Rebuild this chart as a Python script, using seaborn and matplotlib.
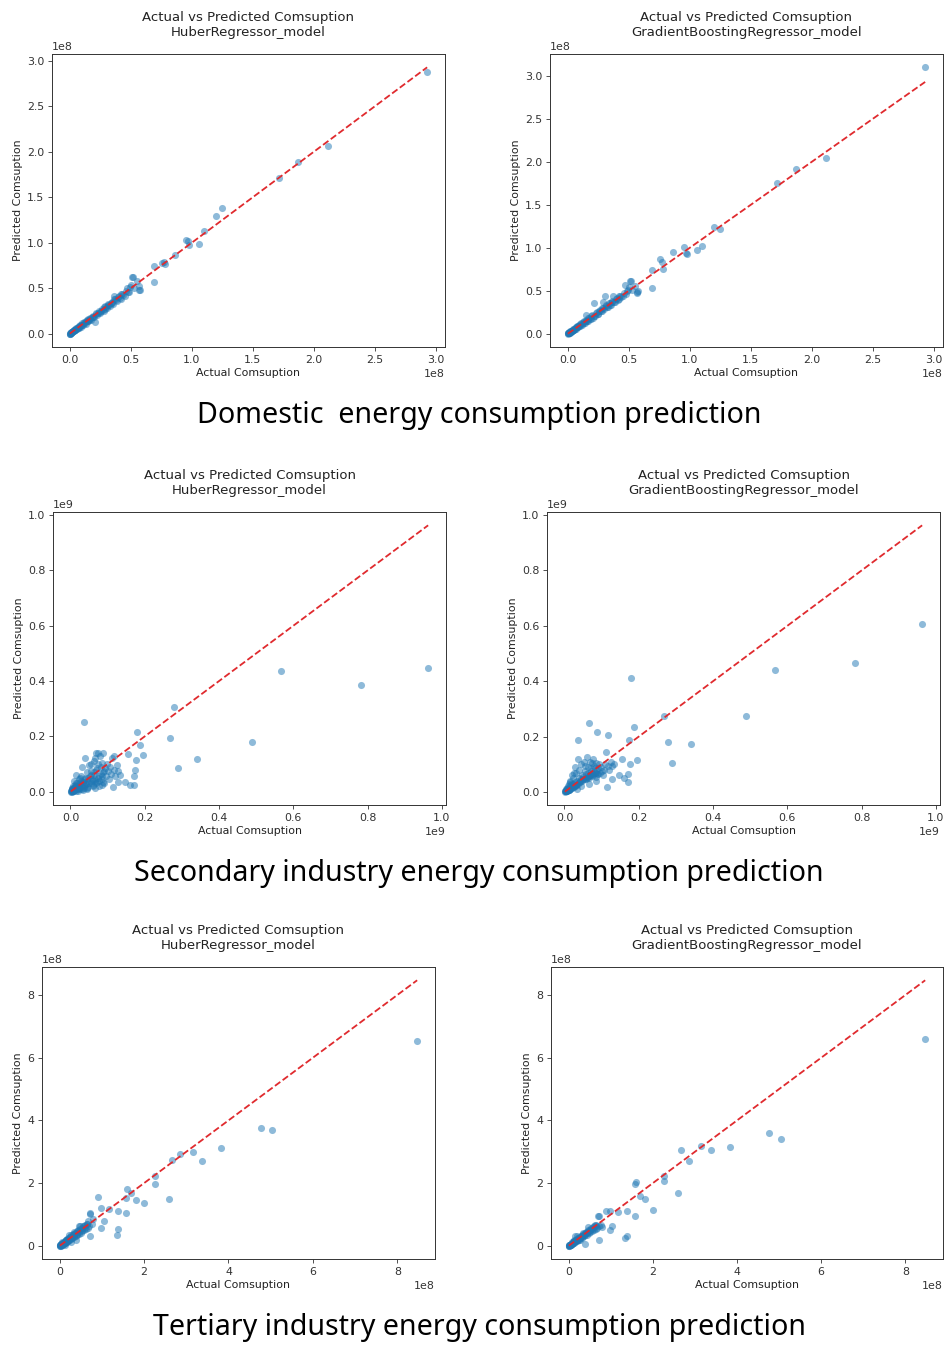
import numpy as np
import pandas as pd
import matplotlib
matplotlib.use("Agg")
import matplotlib.pyplot as plt
import seaborn as sns

# All consumption values below are in millions (x 1e6)

# Domestic energy consumption: actual + predictions of the two models
dom_actual = [293, 212, 187, 172, 125, 120, 110, 106, 95, 97, 98, 86, 76, 77, 78, 69, 69, 52, 57,
              0.3, 0.6, 1.0, 1.4, 1.9, 2.3, 2.8, 3.3, 3.9, 4.5, 5.2, 6.0, 6.8, 7.5, 8.3, 9.1,
              10.0, 11.0, 12.0, 13.1, 14.2, 15.3, 16.5, 17.6, 18.8, 20.0, 20.5, 21.3, 22.6, 23.9,
              25.2, 26.5, 27.8, 29.1, 30.4, 31.7, 33.0, 34.4, 35.8, 37.2, 38.6, 40.1, 41.7, 43.3,
              45.0, 46.7, 48.4, 50.0, 51.0, 53.0, 55.0, 56.5, 58.0, 36.0, 29.0, 15.0, 8.0, 4.0,
              0.2, 0.4, 0.8, 1.2, 1.7, 2.1, 2.6, 3.1, 3.6, 4.2, 4.8, 5.5, 6.3, 7.1, 7.9, 8.7,
              9.5, 10.5, 11.5, 12.5, 13.6, 14.7, 15.9, 17.0, 18.2, 19.4, 21.9, 23.2, 24.5, 25.8,
              27.1, 28.5, 29.8, 31.1, 32.4, 33.7, 35.1, 36.5, 37.9, 39.3, 40.9, 42.5, 44.1, 45.8,
              47.5, 49.2]
dom_huber = [288, 206, 189, 171, 138, 130, 113, 99, 103, 102, 98, 87, 78, 79, 77, 74, 57, 62, 48,
             0.1, 0.2, 1.5, 0.8, 2.4, 1.6, 3.4, 2.5, 4.6, 3.6, 5.9, 4.8, 7.7, 6.2, 9.4, 7.8,
             11.3, 9.4, 13.0, 11.2, 15.0, 13.6, 17.4, 15.5, 19.6, 18.1, 12.8, 22.4, 20.5, 25.0,
             23.0, 27.6, 25.4, 30.0, 28.0, 32.8, 30.6, 35.2, 33.1, 38.5, 35.7, 41.5, 38.7, 44.2,
             41.8, 50.5, 46.0, 53.5, 62.0, 50.2, 57.5, 52.5, 48.0, 42.0, 27.0, 16.5, 7.0, 4.2,
             0.5, 0.1, 1.1, 0.9, 2.0, 1.8, 2.9, 2.7, 3.9, 3.8, 5.0, 5.2, 6.6, 6.7, 8.4, 8.2,
             9.9, 10.1, 11.9, 11.8, 13.9, 14.1, 15.6, 16.4, 17.9, 18.7, 21.5, 22.9, 23.9, 25.5,
             26.4, 28.9, 29.0, 31.5, 31.8, 34.3, 34.0, 37.8, 36.9, 40.2, 39.5, 43.6, 42.5, 47.3,
             45.5, 51.0]
dom_gbr = [310, 205, 192, 175, 122, 124, 102, 97, 101, 94, 93, 95, 87, 83, 75, 74, 53, 62, 49,
           0.5, 0.9, 0.7, 1.9, 1.5, 2.9, 2.2, 3.9, 3.3, 5.3, 4.6, 6.9, 6.0, 8.6, 7.4, 10.0,
           9.0, 12.3, 10.8, 14.4, 12.8, 22.5, 15.0, 18.9, 17.0, 21.5, 19.0, 36.0, 21.0, 25.5,
           23.3, 28.0, 26.0, 37.0, 44.0, 33.5, 31.0, 36.0, 33.5, 43.5, 37.0, 41.5, 40.0, 44.5,
           43.5, 57.0, 50.0, 55.0, 62.0, 51.0, 56.0, 48.0, 50.0, 36.5, 30.5, 15.5, 8.5, 4.0,
           0.3, 0.6, 1.2, 1.0, 2.1, 1.9, 2.8, 3.3, 3.5, 4.6, 4.7, 5.9, 6.1, 7.6, 7.6, 9.2,
           9.2, 11.0, 11.2, 13.3, 13.0, 15.6, 15.2, 17.9, 17.5, 20.5, 21.0, 24.0, 23.5, 27.0,
           26.0, 30.0, 28.8, 32.5, 31.5, 35.5, 34.0, 38.5, 37.0, 41.0, 39.5, 44.0, 42.5, 47.5,
           46.0, 51.0]

# Secondary industry energy consumption
sec_actual = [963, 781, 567, 488, 341, 290, 278, 268, 178, 186, 195, 175, 177, 171, 170, 159,
              154, 146, 114, 127, 36, 66, 87, 117,
              1, 2, 3, 4, 5, 6, 7, 8, 9, 10, 11, 12, 13, 14, 15, 16, 18, 20, 22, 24, 26, 28,
              30, 32, 34, 36, 38, 40, 42, 44, 46, 48, 50, 52, 54, 56, 58, 60, 62, 64, 66, 68,
              70, 72, 74, 76, 78, 80, 82, 84, 86, 88, 90, 92, 95, 98, 101, 104, 107, 110, 113,
              116, 120, 124, 128, 132, 25, 35, 45, 55, 65, 75, 85, 15, 5,
              2, 4, 6, 8, 10, 12, 14, 16, 18, 20, 22, 24, 26, 28, 30, 33, 36, 39, 42, 45,
              48, 51, 54, 57, 60, 63, 66, 69, 72, 75, 78, 81, 84, 87, 90, 3, 7, 11, 19, 27]
sec_huber = [447, 384, 436, 178, 118, 84, 307, 193, 216, 169, 134, 77, 113, 57, 23, 23,
             135, 36, 17, 35, 253, 120, 140, 128,
             3, 0, 8, 1, 12, 2, 20, 5, 15, 40, 6, 25, 10, 60, 18, 4, 30, 12, 45, 20, 8, 55,
             25, 90, 35, 15, 120, 48, 28, 70, 38, 18, 95, 55, 30, 75, 45, 25, 110, 60, 40, 140,
             80, 35, 100, 55, 20, 130, 65, 45, 105, 70, 30, 85, 55, 100, 75, 45, 90, 65, 120,
             80, 55, 95, 75, 60, 50, 5, 10, 100, 15, 140, 25, 30, 0,
             1, 6, 2, 10, 5, 14, 8, 20, 12, 9, 25, 15, 30, 18, 10, 35, 22, 45, 28, 15,
             50, 30, 60, 38, 20, 70, 45, 30, 85, 50, 40, 90, 55, 35, 75, 9, 3, 17, 4, 40]
sec_gbr = [605, 467, 439, 275, 173, 104, 181, 273, 412, 236, 114, 186, 102, 64, 35, 50,
           120, 60, 17, 45, 189, 249, 216, 207,
           1, 5, 2, 9, 3, 12, 4, 15, 6, 20, 8, 28, 10, 35, 12, 40, 15, 60, 18, 50, 22, 90,
           25, 70, 30, 120, 35, 80, 38, 100, 40, 60, 45, 110, 50, 75, 48, 125, 55, 90, 52, 110,
           60, 85, 58, 120, 65, 95, 70, 105, 55, 80, 65, 100, 70, 90, 75, 60, 80, 100, 143,
           95, 80, 110, 95, 100, 70, 10, 20, 95, 30, 105, 40, 25, 5,
           3, 2, 8, 5, 12, 7, 16, 10, 22, 14, 20, 30, 18, 35, 25, 40, 28, 50, 35, 45,
           42, 55, 48, 65, 50, 70, 58, 60, 75, 68, 62, 85, 70, 66, 88, 4, 10, 6, 28, 20]

# Tertiary industry energy consumption
ter_actual = [847, 477, 504, 383, 338, 315, 285, 266, 259, 227, 226, 201, 182, 169, 160, 158,
              157, 139, 139, 135, 98, 98, 104, 90, 118, 72, 72,
              0.5, 1, 1.5, 2, 3, 4, 5, 6, 7, 8, 9, 10, 11, 12, 13, 14, 15, 16, 17, 18, 19, 20,
              22, 24, 26, 28, 30, 32, 34, 36, 38, 40, 42, 44, 46, 48, 50, 52, 54, 56, 58, 60,
              62, 64, 66, 68, 70, 73, 76, 79, 21, 27, 33, 39, 45, 12, 6,
              1, 2.5, 3.5, 5.5, 7.5, 9.5, 11.5, 13.5, 15.5, 17.5, 19.5, 23, 25, 29, 31, 35,
              37, 41, 43, 47, 49, 53, 57, 61, 65]
ter_huber = [654, 375, 369, 312, 270, 299, 292, 273, 148, 224, 196, 138, 146, 169, 180, 154,
             104, 112, 53, 33, 122, 58, 80, 157, 116, 32, 104,
             0.3, 2.0, 0.5, 3.5, 1.5, 6.0, 2.5, 8.0, 4.5, 10.0, 6.0, 13.0, 8.0, 15.0, 10.0,
             18.0, 11.5, 20.0, 13.5, 22.0, 15.5, 25.0, 18.0, 29.0, 21.0, 33.0, 25.0, 37.0,
             28.0, 42.0, 32.0, 46.0, 36.0, 50.0, 39.0, 62.0, 42.0, 58.0, 47.0, 63.0, 49.0,
             66.0, 53.0, 70.0, 58.0, 80.0, 63.0, 100.0, 70.0, 85.0, 35, 12, 45, 20, 62, 3, 12,
             1.5, 1.0, 4.5, 3.5, 9.0, 7.0, 13.0, 10.5, 17.0, 14.5, 22.0, 20.0, 28.0, 26.0,
             34.0, 31.0, 41.0, 37.0, 48.0, 43.0, 55.0, 49.0, 62.0, 57.0, 70.0]
ter_gbr = [661, 359, 342, 316, 305, 317, 272, 305, 168, 223, 208, 115, 151, 160, 203, 197,
           95, 111, 32, 24, 110, 49, 63, 110, 109, 19, 96,
           1.0, 0.4, 2.5, 1.2, 4.0, 2.5, 6.5, 4.0, 9.0, 6.0, 11.0, 8.0, 13.0, 10.0, 15.0,
           12.0, 30.0, 14.0, 19.0, 15.0, 21.0, 17.0, 25.0, 20.0, 28.0, 24.0, 33.0, 26.0,
           37.0, 30.0, 40.0, 34.0, 45.0, 36.0, 60.0, 42.0, 52.0, 44.0, 57.0, 48.0, 60.0,
           52.0, 65.0, 55.0, 68.0, 58.0, 95.0, 62.0, 65.0, 60.0, 30, 18, 42, 5, 50, 20, 2,
           0.8, 3.0, 2.5, 6.0, 6.5, 10.5, 10.0, 14.5, 14.0, 18.5, 18.0, 24.0, 23.0, 30.0,
           29.0, 36.0, 35.0, 42.0, 41.0, 48.0, 46.0, 54.0, 55.0, 62.0, 63.0]

W, H = 944, 1345
fig = plt.figure(figsize=(W / 100, H / 100), dpi=100)


def box(l, t, r, b):
    return [l / W, 1 - b / H, (r - l) / W, (b - t) / H]


def panel(rect, actual, pred, model):
    ax = fig.add_axes(box(*rect))
    df = pd.DataFrame({'actual': np.array(actual) * 1e6, 'pred': np.array(pred) * 1e6})
    sns.scatterplot(data=df, x='actual', y='pred', ax=ax, alpha=0.5, s=26, linewidth=0)
    lo, hi = df['actual'].min(), df['actual'].max()
    ax.plot([lo, hi], [lo, hi], '--', color='#e02a2e', lw=1.3)
    ax.set_title('Actual vs Predicted Comsuption\n' + model, fontsize=9.5, y=1.0, pad=13,
                 color='#222222')
    ax.set_xlabel('Actual Comsuption', fontsize=7.9, labelpad=2.5, color='#222222')
    ax.set_ylabel('Predicted Comsuption', fontsize=7.9, labelpad=3, color='#222222')
    ax.tick_params(labelsize=7.9, length=2.8, width=0.6, pad=2.8, colors='#333333')
    ax.xaxis.get_offset_text().set_fontsize(7.9)
    ax.yaxis.get_offset_text().set_fontsize(7.9)
    for sp in ax.spines.values():
        sp.set_linewidth(0.7)
        sp.set_color('#333333')
    return ax


panel((52, 54, 445, 347), dom_actual, dom_huber, 'HuberRegressor_model')
panel((550, 54, 943, 347), dom_actual, dom_gbr, 'GradientBoostingRegressor_model')
panel((53, 512, 446, 805), sec_actual, sec_huber, 'HuberRegressor_model')
panel((547, 512, 940, 805), sec_actual, sec_gbr, 'GradientBoostingRegressor_model')
panel((42, 967, 435, 1259), ter_actual, ter_huber, 'HuberRegressor_model')
panel((551, 967, 943, 1259), ter_actual, ter_gbr, 'GradientBoostingRegressor_model')

captions = ['Domestic  energy consumption prediction',
            'Secondary industry energy consumption prediction',
            'Tertiary industry energy consumption prediction']
for cap, y in zip(captions, [416, 874, 1327]):
    fig.text(479 / W, 1 - y / H, cap, ha='center', va='center', fontsize=20.6,
             family='Noto Sans')

fig.savefig('out.png', dpi=100)
